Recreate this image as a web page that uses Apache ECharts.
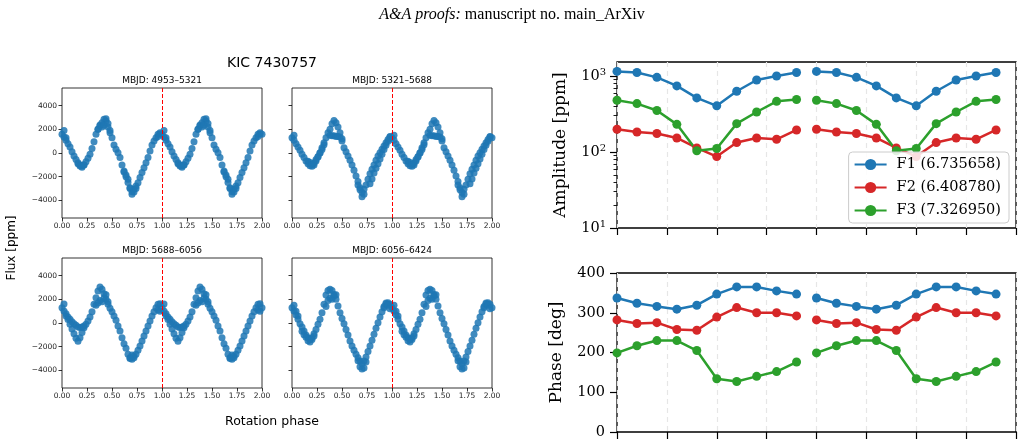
<!DOCTYPE html>
<html lang="en">
<head>
  <meta charset="UTF-8">
  <script src="https://cdn.jsdelivr.net/npm/echarts@6.0.0/dist/echarts.min.js"></script>
  <style>
    html, body { margin: 0; padding: 0; width: 100%; height: 100%; background: #fff; overflow: hidden; }
    #main { width: 1024px; height: 446px; }
  </style>
</head>
<body>
  <div id="main"></div>
  <script>
    // light curves, read every 0.02 in phase (one cycle, shown twice)
    const flux1 = [1580, 1350, 1070, 790, 510, 110, -250, -540, -820, -1010, -1100, -1010, -730, -450, -110, 390, 960, 1580, 2000, 2370, 2560, 2850, 2700, 2200, 1720, 1300, 680, 310, 30, -390, -1010, -1520, -1860, -2230, -2930, -3270, -3070, -2790, -2510, -2080, -1660, -1240, -820, -390, 170, 680, 1010, 1300, 1580, 1720];
    const flux1b = [[0.02, 1900], [0.04, 1300], [0.16, -900], [0.18, -1100], [0.20, -1200], [0.22, -1000], [0.36, 2000], [0.38, 2300], [0.40, 2200], [0.42, 2350], [0.44, 2900], [0.46, 2500], [0.48, 1900], [0.62, -1600], [0.64, -2000], [0.66, -2500], [0.68, -3000], [0.70, -3500], [0.72, -3300], [0.74, -3000], [0.96, 1400], [0.98, 1600]];

    const flux2 = [1300, 1070, 790, 510, 230, -110, -390, -680, -900, -1070, -1130, -1010, -680, -340, 30, 450, 870, 1300, 1720, 2000, 2480, 2760, 2560, 2200, 1720, 1010, 450, 110, -250, -620, -1010, -1460, -1940, -2420, -2930, -3350, -3070, -2700, -2230, -1750, -1380, -1010, -620, -250, 30, 310, 590, 870, 1150, 1350];
    const flux2b = [[0.02, 1500], [0.16, -700], [0.18, -800], [0.20, -950], [0.22, -850], [0.24, -550], [0.26, -300], [0.28, 0], [0.30, 300], [0.32, 700], [0.38, 1500], [0.40, 1450], [0.42, 1450], [0.44, 1400], [0.46, 1400], [0.48, 1350], [0.50, 1200], [0.66, -2700], [0.68, -3100], [0.70, -3700], [0.72, -3500], [0.78, -2600], [0.80, -2200], [0.82, -1700], [0.84, -1300], [0.86, -900], [0.88, -500], [0.90, -100], [0.92, 300], [0.94, 650], [0.96, 1000], [0.98, 1400]];

    const flux3 = [1300, 1010, 790, 510, 310, 110, -60, -200, -340, -390, -340, -250, -110, 170, 510, 960, 1580, 2140, 2700, 3040, 2850, 2480, 2000, 1580, 1240, 960, 590, 230, -250, -680, -1240, -1750, -2140, -2650, -2930, -3070, -2930, -2650, -2310, -1940, -1520, -1100, -680, -250, 170, 590, 960, 1300, 1580, 1630];
    const flux3b = [[0.02, 1600], [0.04, 600], [0.06, 300], [0.08, -100], [0.10, -500], [0.12, -900], [0.14, -1300], [0.16, -1550], [0.18, -1250], [0.20, -800], [0.22, -400], [0.34, 1500], [0.36, 1700], [0.38, 1900], [0.40, 1800], [0.42, 2100], [0.44, 2400], [0.46, 1800], [0.68, -3000], [0.70, -2700], [0.72, -2800], [0.96, 1100], [0.98, 1000]];

    const flux4 = [1300, 1010, 680, 310, -60, -340, -680, -1010, -1240, -1380, -1240, -900, -540, -110, 310, 870, 1580, 2370, 2760, 2850, 2760, 2420, 2000, 1440, 870, 390, -60, -540, -1010, -1520, -1940, -2310, -2650, -2930, -3210, -3440, -3210, -2870, -2420, -1940, -1460, -960, -450, 30, 510, 960, 1300, 1580, 1720, 1580];
    const flux4b = [[0.02, 1500], [0.04, 1000], [0.06, 600], [0.10, -700], [0.12, -1000], [0.14, -1200], [0.16, -1500], [0.18, -1600], [0.20, -1400], [0.22, -1100], [0.34, 1400], [0.36, 1900], [0.38, 2100], [0.40, 2000], [0.42, 2300], [0.44, 2400], [0.66, -3200], [0.68, -3700], [0.70, -3900], [0.72, -3800], [0.74, -3300], [0.92, 1400], [0.94, 1700], [0.96, 1500], [0.98, 1200]];

    const mbjdRanges = ['MBJD: 4953\u20135321', 'MBJD: 5321\u20135688', 'MBJD: 5688\u20136056', 'MBJD: 6056\u20136424'];
    const fluxTicks = [-4000, -2000, 0, 2000, 4000];

    // amplitude / phase of the three frequencies per phase bin
    const phaseBins = [0, 0.1, 0.2, 0.3, 0.4, 0.5, 0.6, 0.7, 0.8, 0.9];
    const ampF1 = [1150, 1110, 960, 740, 515, 405, 630, 885, 1000, 1110];
    const ampF2 = [199, 183, 175, 153, 113, 87, 133, 153, 147, 195];
    const ampF3 = [480, 433, 351, 231, 104, 111, 236, 336, 464, 490];
    const phF1 = [337, 324, 316, 309, 319, 347, 365, 365, 355, 347];
    const phF2 = [282, 273, 275, 258, 256, 289, 313, 300, 300, 292];
    const phF3 = [199, 217, 230, 230, 205, 134, 127, 140, 152, 176];
    const freqNames = ['F1 (6.735658)', 'F2 (6.408780)', 'F3 (7.326950)'];
    const freqColors = ['#1f77b4', '#d62728', '#2ca02c'];
    const ampMajor = [10, 100, 1000];
    const ampMinor = [20, 30, 40, 50, 60, 70, 80, 90, 200, 300, 400, 500, 600, 700, 800, 900];

    const SANS = '"DejaVu Sans", sans-serif';
    const SERIF = '"DejaVu Serif", serif';
    const grids = [
      { left: 62, top: 88, width: 200, height: 130 },
      { left: 292, top: 88, width: 200, height: 130 },
      { left: 62, top: 258, width: 200, height: 130 },
      { left: 292, top: 258, width: 200, height: 130 },
      { left: 617, top: 62, width: 399, height: 166 },
      { left: 617, top: 273, width: 399, height: 159 }
    ];

    function lcData(vals, extra) {
      const pts = [];
      vals.forEach((v, i) => { const p = i * 0.02; pts.push([p, v], [p + 1, v]); });
      extra.forEach(([p, v]) => { pts.push([p, v], [p + 1, v]); });
      pts.push([2, vals[0]]);
      return pts;
    }

    function foldTwice(vals) {
      const d = phaseBins.map((p, i) => [p, vals[i]]);
      d.push([0.95, '-']);
      phaseBins.forEach((p, i) => d.push([p + 1, vals[i]]));
      return d;
    }

    const minus = v => (v < 0 ? '\u2212' + Math.abs(v) : String(v));
    const fluxSets = [[flux1, flux1b], [flux2, flux2b], [flux3, flux3b], [flux4, flux4b]];

    const xAxes = [];
    const yAxes = [];
    const series = [];
    const graphics = [];

    fluxSets.forEach((set, k) => {
      xAxes.push({
        gridIndex: k, type: 'value', min: 0, max: 2, interval: 0.25,
        axisLine: { show: false, onZero: false }, splitLine: { show: false },
        axisTick: { length: 3.5, lineStyle: { color: '#000', width: 0.8 } },
        axisLabel: { fontSize: 7.5, color: '#222', margin: 4, fontFamily: SANS, formatter: v => v.toFixed(2) }
      });
      yAxes.push({
        gridIndex: k, type: 'value', min: -5500, max: 5500,
        axisLine: { show: false, onZero: false }, splitLine: { show: false },
        axisTick: { customValues: fluxTicks, length: 3.5, lineStyle: { color: '#000', width: 0.8 } },
        axisLabel: { show: k % 2 === 0, customValues: fluxTicks, fontSize: 7.5, color: '#222', margin: 5, fontFamily: SANS, formatter: minus }
      });
      series.push({
        type: 'scatter', xAxisIndex: k, yAxisIndex: k,
        data: lcData(set[0], set[1]),
        symbolSize: 7,
        itemStyle: { color: '#1f77b4', opacity: 0.85 },
        markLine: {
          silent: true, symbol: ['none', 'none'], label: { show: false },
          lineStyle: { color: '#ff0000', type: [4, 2], width: 1 },
          data: [{ xAxis: 1 }]
        }
      });
      const g = grids[k];
      graphics.push({
        type: 'text', x: g.left + g.width / 2, y: g.top - 7,
        style: { text: mbjdRanges[k], font: '9px ' + SANS, fill: '#000', align: 'center', verticalAlign: 'middle' }
      });
    });

    // right panels
    [4, 5].forEach(k => {
      xAxes.push({
        gridIndex: k, type: 'value', min: 0, max: 2, interval: 0.25,
        axisLine: { show: false, onZero: false },
        axisLabel: { show: false },
        axisTick: { length: 7, lineStyle: { color: '#000', width: 1.2 } },
        splitLine: { show: true, lineStyle: { color: '#e6e6e6', type: [5, 4], width: 1.2 } }
      });
    });
    yAxes.push({
      gridIndex: 4, type: 'log', logBase: 10, min: 10, max: 1528,
      axisLine: { show: false, onZero: false }, splitLine: { show: false },
      axisTick: { customValues: ampMajor, length: 7, lineStyle: { color: '#000', width: 1.2 } },
      axisLabel: {
        customValues: ampMajor, margin: 11, color: '#000', fontSize: 14.5, fontFamily: SERIF,
        formatter: v => '10{s|' + Math.round(Math.log10(v)) + '}',
        rich: { s: { fontSize: 10, fontFamily: SERIF, color: '#000', verticalAlign: 'top', padding: [0, 0, 7, 0] } }
      },
      name: 'Amplitude [ppm]', nameLocation: 'middle', nameGap: 48,
      nameTextStyle: { fontSize: 17, fontFamily: SERIF, color: '#000' }
    });
    yAxes.push({
      gridIndex: 4, type: 'log', logBase: 10, min: 10, max: 1528, position: 'left',
      axisLine: { show: false, onZero: false }, splitLine: { show: false }, axisLabel: { show: false },
      axisTick: { customValues: ampMinor, length: 3.5, lineStyle: { color: '#000', width: 0.9 } }
    });
    yAxes.push({
      gridIndex: 5, type: 'value', min: 0, max: 400, interval: 100,
      axisLine: { show: false, onZero: false }, splitLine: { show: false },
      axisTick: { length: 7, lineStyle: { color: '#000', width: 1.2 } },
      axisLabel: { margin: 12, color: '#000', fontSize: 14.5, fontFamily: SERIF },
      name: 'Phase [deg]', nameLocation: 'middle', nameGap: 52,
      nameTextStyle: { fontSize: 17, fontFamily: SERIF, color: '#000' }
    });

    [ampF1, ampF2, ampF3].forEach((vals, i) => {
      series.push({
        name: freqNames[i], type: 'line', xAxisIndex: 4, yAxisIndex: 4,
        data: foldTwice(vals), symbol: 'circle', symbolSize: 9, connectNulls: false,
        color: freqColors[i], lineStyle: { width: 2.5 }
      });
    });
    [phF1, phF2, phF3].forEach((vals, i) => {
      series.push({
        name: freqNames[i], type: 'line', xAxisIndex: 5, yAxisIndex: 6,
        data: foldTwice(vals), symbol: 'circle', symbolSize: 9, connectNulls: false,
        color: freqColors[i], lineStyle: { width: 2.5 }
      });
    });

    graphics.push(
      {
        type: 'text', x: 512, y: 15,
        style: {
          text: '{i|A&A proofs:} manuscript no. main_ArXiv',
          font: '16px "Liberation Serif", serif', fill: '#000', align: 'center', verticalAlign: 'middle',
          rich: { i: { fontStyle: 'italic', fontSize: 16, fontFamily: '"Liberation Serif", serif' } }
        }
      },
      {
        type: 'text', x: 272, y: 63,
        style: { text: 'KIC 7430757', font: '14px ' + SANS, fill: '#000', align: 'center', verticalAlign: 'middle' }
      },
      {
        type: 'text', x: 272, y: 422,
        style: { text: 'Rotation phase', font: '12.5px ' + SANS, fill: '#000', align: 'center', verticalAlign: 'middle' }
      },
      {
        type: 'text', x: 12, y: 248, rotation: Math.PI / 2,
        style: { text: 'Flux [ppm]', font: '12px ' + SANS, fill: '#000', align: 'center', verticalAlign: 'middle' }
      }
    );

    const myChart = echarts.init(document.getElementById('main'));
    myChart.setOption({
      animation: false,
      backgroundColor: '#fff',
      grid: grids.map((g, k) => Object.assign({
        show: true, borderColor: '#000', borderWidth: k >= 4 ? 1.3 : 0.8,
        backgroundColor: 'transparent', containLabel: false, outerBoundsMode: 'none'
      }, g)),
      xAxis: xAxes,
      yAxis: yAxes,
      legend: {
        data: freqNames, orient: 'vertical', right: 15, top: 152,
        backgroundColor: 'rgba(255,255,255,0.85)', borderColor: '#cccccc', borderWidth: 1, borderRadius: 4,
        padding: [5, 8, 5, 5], itemGap: 8, itemWidth: 32, itemHeight: 14,
        textStyle: { fontSize: 14.5, fontFamily: SERIF, color: '#000', padding: [0, 0, 0, 5] }
      },
      graphic: graphics,
      series: series
    });
  </script>
</body>
</html>
